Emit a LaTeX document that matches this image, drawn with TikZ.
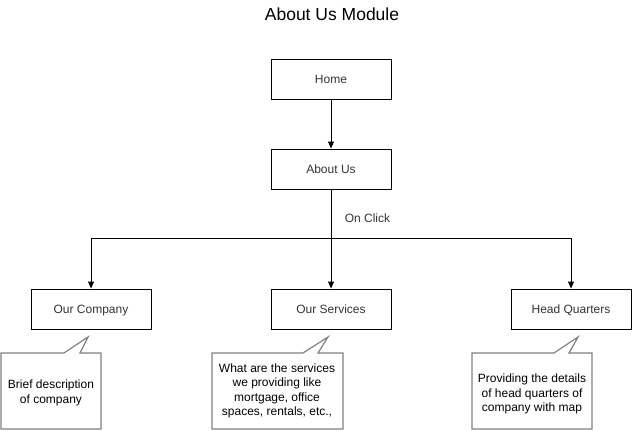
\documentclass[tikz,border=0pt]{standalone}
\usepackage{fontspec}
\setmainfont{Liberation Sans}
\usetikzlibrary{arrows.meta}
\definecolor{txtgray}{HTML}{333333}
\definecolor{callgray}{HTML}{808080}

\begin{document}
\begin{tikzpicture}[x=1pt, y=-1pt,
    page/.style={draw, line width=1pt, minimum width=120pt, minimum height=40pt,
      text height=10pt, text depth=1.5pt,
      font=\fontsize{12}{14.4}\selectfont, text=txtgray},
    note/.style={align=center, font=\fontsize{12}{14.4}\selectfont, text=black},
    balloon/.style={draw=callgray, line width=1.2pt, line join=miter},
    link/.style={line width=1pt, -{Triangle[length=7pt, width=6pt]}}]
  \useasboundingbox (0,0) rectangle (632,431);

  % title
  \node[font=\fontsize{17.5}{21}\selectfont] (title) at (332,14) {About Us Module};

  % pages
  \node[page] (home) at (331,79) {Home};
  \node[page] (about) at (331,169) {About Us};
  \node[page] (company) at (91,309) {Our Company};
  \node[page] (services) at (331,309) {Our Services};
  \node[page] (hq) at (571,309) {Head Quarters};

  \coordinate (split) at (331,238);

  \draw[link] (home) -- (about);
  \draw[link] (about) -- node[anchor=west, xshift=10pt, pos=0.29, font=\fontsize{12}{14.4}\selectfont, text=txtgray] {On Click} (services);
  \draw[link] (split) -| (company);
  \draw[link] (split) -| (hq);

  % callouts
  \draw[balloon] (1,353) -- (64,353) -- (88,337) -- (80,353) -- (101,353)
    -- (101,429) -- (1,429) -- cycle;
  \node[note] (companytxt) at (51,393) {Brief description\\of company};

  \draw[balloon] (212,353) -- (303,353) -- (328,337) -- (318,353) -- (343,353)
    -- (343,429) -- (212,429) -- cycle;
  \node[note] (servicestxt) at (277,391) {What are the services\\we providing like\\mortgage, office\\spaces, rentals, etc.,};

  \draw[balloon] (472,353) -- (554,353) -- (578,337) -- (569,353) -- (592,353)
    -- (592,429) -- (472,429) -- cycle;
  \node[note] (hqtxt) at (532,394) {Providing the details\\of head quarters of\\company with map};
\end{tikzpicture}
\end{document}
